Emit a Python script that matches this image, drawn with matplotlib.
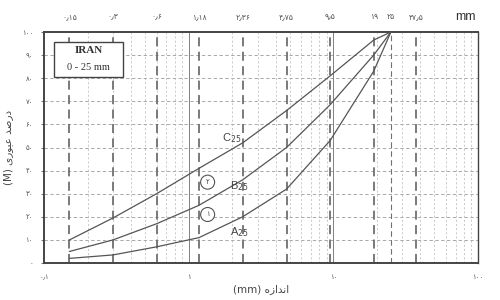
import matplotlib.pyplot as plt
from matplotlib.patches import Rectangle, Ellipse

# Sieve sizes (mm) and percent passing for the three grading envelopes
sieves = [0.15, 0.3, 0.6, 1.18, 2.36, 4.75, 9.5, 19, 25]
pass_a = [2, 3.5, 7, 11, 20, 32, 53, 83, 100]
pass_b = [5, 10, 17, 25, 36, 50, 68.5, 90, 100]
pass_c = [10, 19.5, 30, 41, 52, 66, 81, 96.5, 100]

# Top axis sieve labels (Persian digits)
top_ticks = [0.15, 0.3, 0.6, 1.18, 2.36, 4.75, 9.5, 19, 25, 37.5]
top_labels = ['۰٫۱۵', '۰٫۳', '۰٫۶', '۱٫۱۸', '۲٫۳۶', '۴٫۷۵', '۹٫۵', '۱۹', '۲۵', '۳۷٫۵']
bottom_ticks = [0.1, 1, 10, 100]
bottom_labels = ['۰٫۱', '۱', '۱۰', '۱۰۰']
y_ticks = list(range(0, 101, 10))
y_labels = ['۰', '۱۰', '۲۰', '۳۰', '۴۰', '۵۰', '۶۰', '۷۰', '۸۰', '۹۰', '۱۰۰']

# Persian labels written in visual (shaped, right-to-left) order
XLABEL = '(mm) ﻩﺯﺍﺪﻧﺍ'
YLABEL = '(M) ﻯﺭﻮﺒﻋ ﺪﺻﺭﺩ'

INK = '#555555'
GRID = '#9a9a9a'

fig = plt.figure(figsize=(5, 3), dpi=100)
ax = fig.add_axes([0.088, 0.1233, 0.868, 0.77])
ax.set_xscale('log')
ax.set_xlim(0.1, 100)
ax.set_ylim(0, 100)

# horizontal grid
for yv in range(10, 100, 10):
    ax.axhline(yv, color=GRID, lw=0.6, ls=(0, (4, 3)), zorder=1)

# light minor grid
for dec in [0.1, 1, 10]:
    for k in range(2, 10):
        xv = k * dec
        if xv in (0.3,):
            continue
        ax.axvline(xv, color='#b5b5b5', lw=0.5, ls=(0, (3, 3)), zorder=1)

# heavy dashed lines at sieve sizes
for xv in top_ticks:
    lw = 0.8 if xv == 25 else 1.3
    ax.axvline(xv, color='#707070', lw=lw, ls=(0, (5, 3)), zorder=1.5)

# solid lines at decades
for xv in [1, 10]:
    ax.axvline(xv, color='#808080', lw=0.7, zorder=1.5)

for yv in [pass_a, pass_b, pass_c]:
    ax.plot(sieves, yv, color=INK, lw=0.9, zorder=3)

for s in ax.spines.values():
    s.set_color('#444444')
    s.set_linewidth(1.4)
ax.spines['right'].set_linewidth(1.0)

ax.set_xticks(bottom_ticks)
ax.set_xticklabels(bottom_labels, fontsize=5, color='#555555', family='DejaVu Sans')
ax.set_xticks([], minor=True)
ax.set_yticks(y_ticks)
ax.set_yticklabels(y_labels, fontsize=5, color='#555555', family='DejaVu Sans')
ax.tick_params(axis='x', length=0, pad=8)
ax.tick_params(axis='y', length=2, pad=6, color='#777777')

ax.set_xlabel(XLABEL, fontsize=7.5, color='#444444', family='DejaVu Sans', labelpad=3)
ax.set_ylabel(YLABEL, fontsize=7.5, color='#444444', family='DejaVu Sans', labelpad=6)

top = ax.twiny()
top.set_xscale('log')
top.set_xlim(0.1, 100)
top.set_xticks(top_ticks)
top.set_xticklabels(top_labels, fontsize=5.5, color='#555555', family='DejaVu Sans')
top.set_xticks([], minor=True)
top.tick_params(axis='x', length=0, pad=8)
for s in top.spines.values():
    s.set_visible(False)
fig.text(0.93, 0.945, 'mm', fontsize=9, color='#333333', family='Liberation Sans',
         ha='center', va='center')

# IRAN box
ax.add_patch(Rectangle((0.023, 0.805), 0.159, 0.152, transform=ax.transAxes,
                       facecolor='white', edgecolor='#444444', lw=1.0, zorder=5))
ax.text(0.1025, 0.922, 'IRAN', transform=ax.transAxes, ha='center', va='center',
        fontsize=8, fontweight='bold', family='Liberation Serif', color='#333333', zorder=6)
ax.text(0.1025, 0.846, '0 - 25 mm', transform=ax.transAxes, ha='center', va='center',
        fontsize=7.5, family='Liberation Serif', color='#333333', zorder=6)

# curve labels
lab = dict(fontsize=8, color='#444444', ha='left', va='center', zorder=6,
           family='Liberation Sans')
ax.text(1.70, 54, r'C$_{25}$', **lab)
ax.text(1.94, 33.5, r'B$_{25}$', **lab)
ax.text(1.94, 13.5, r'A$_{25}$', **lab)

# numbered circles (14 px across)
cw, ch = 14 / 434, 14 / 231
for yv, t in [(35, '۲'), (21, '۱')]:
    ax.add_patch(Ellipse((0.377, yv / 100), cw, ch, transform=ax.transAxes,
                         facecolor='white', edgecolor='#555555', lw=0.8, zorder=5))
    ax.text(0.377, yv / 100, t, transform=ax.transAxes, fontsize=5, ha='center',
            va='center', color='#444444', family='DejaVu Sans', zorder=6)

fig.savefig('out.png', dpi=100)
